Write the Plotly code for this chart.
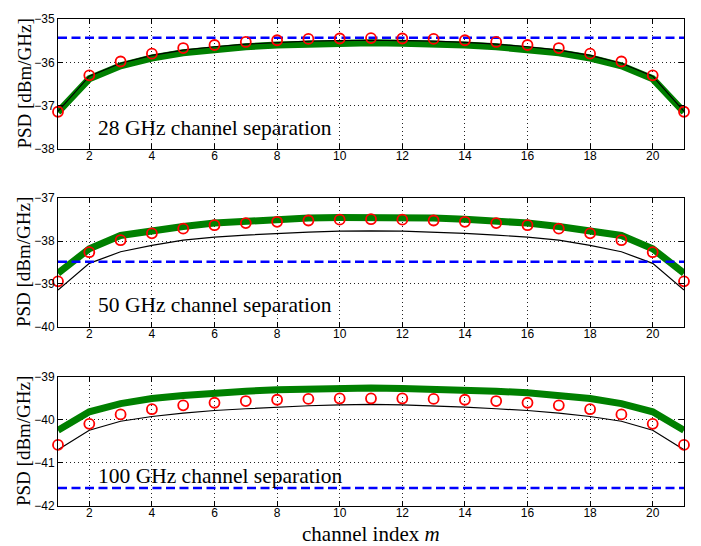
import plotly.graph_objects as go
from plotly.subplots import make_subplots

m = list(range(1, 22))

def mirror(half):
    return half + half[-2::-1]

# 28 GHz
red_28 = mirror([-37.14, -36.30, -35.98, -35.80, -35.67, -35.60, -35.53, -35.49, -35.46, -35.45, -35.44])
black_28 = mirror([-37.13, -36.32, -36.02, -35.84, -35.72, -35.64, -35.58, -35.54, -35.51, -35.50, -35.49])
green_28 = mirror([-37.15, -36.38, -36.08, -35.90, -35.78, -35.70, -35.64, -35.60, -35.57, -35.56, -35.55])
blue_28 = -35.43

# 50 GHz
red_50 = mirror([-38.94, -38.26, -37.98, -37.82, -37.71, -37.63, -37.58, -37.55, -37.52, -37.50, -37.49])
black_50 = mirror([-39.14, -38.52, -38.25, -38.10, -37.98, -37.91, -37.86, -37.82, -37.79, -37.77, -37.76])
green_50 = mirror([-38.75, -38.18, -37.87, -37.75, -37.66, -37.58, -37.53, -37.49, -37.46, -37.45, -37.44])
blue_50 = -38.48

# 100 GHz
red_100 = mirror([-40.58, -40.09, -39.87, -39.75, -39.66, -39.60, -39.56, -39.53, -39.51, -39.50, -39.50])
black_100 = mirror([-40.69, -40.24, -40.03, -39.92, -39.84, -39.78, -39.74, -39.70, -39.67, -39.65, -39.64])
green_100 = mirror([-40.24, -39.81, -39.62, -39.50, -39.43, -39.37, -39.33, -39.30, -39.28, -39.27, -39.26])
blue_100 = -41.58

panels = [
    (red_28, black_28, green_28, blue_28, [-38, -35], "28 GHz channel separation", -37.51),
    (red_50, black_50, green_50, blue_50, [-40, -37], "50 GHz channel separation", -39.49),
    (red_100, black_100, green_100, blue_100, [-42, -39], "100 GHz channel separation", -41.30),
]

x_ticks = list(range(2, 21, 2))

fig = make_subplots(rows=3, cols=1)

domains = [[0.733, 1.0], [0.368, 0.632], [0.0, 0.265]]
serif = "Liberation Serif, Times New Roman, serif"
sans = "Liberation Sans, Arial, sans-serif"

for i, (red, black, green, blue, yr, label, ylab) in enumerate(panels):
    row = i + 1
    fig.add_trace(go.Scatter(x=m, y=green, mode="lines", line=dict(color="#008000", width=7), showlegend=False), row=row, col=1)
    fig.add_trace(go.Scatter(x=m, y=black, mode="lines", line=dict(color="black", width=1.2), showlegend=False), row=row, col=1)
    fig.add_trace(go.Scatter(x=[m[0], m[-1]], y=[blue, blue], mode="lines",
                             line=dict(color="#0000ff", width=2.5, dash="9px,4.5px"), showlegend=False), row=row, col=1)
    fig.add_trace(go.Scatter(x=m, y=red, mode="markers",
                             marker=dict(symbol="circle-open", size=10, color="#ff0000", line=dict(width=1.8, color="#ff0000")),
                             showlegend=False, cliponaxis=False), row=row, col=1)
    xa = "xaxis" if row == 1 else f"xaxis{row}"
    ya = "yaxis" if row == 1 else f"yaxis{row}"
    fig.layout[xa].update(range=[1, 21], tickvals=x_ticks, ticks="inside", ticklen=5, tickcolor="black",
                          showline=True, linecolor="black", linewidth=1, mirror="ticks",
                          showgrid=True, gridcolor="#222", griddash="1px,3px", gridwidth=1, zeroline=False,
                          ticklabelstandoff=-4,
                          tickfont=dict(family=sans, size=12, color="black"))
    fig.layout[ya].update(range=yr, dtick=1, ticks="inside", ticklen=5, tickcolor="black",
                          showline=True, linecolor="black", linewidth=1, mirror="ticks",
                          showgrid=True, gridcolor="#222", griddash="1px,3px", gridwidth=1, zeroline=False,
                          domain=domains[i],
                          tickfont=dict(family=sans, size=12, color="black"))
    yref = "y" if row == 1 else f"y{row}"
    xref = "x" if row == 1 else f"x{row}"
    fig.add_annotation(x=2.2, y=ylab, xref=xref, yref=yref, text=label, showarrow=False,
                       xanchor="left", yanchor="middle", font=dict(family=serif, size=21.5, color="black"))
    fig.add_annotation(x=-0.055, y=sum(domains[i]) / 2, xref="paper", yref="paper", text="PSD [dBm/GHz]",
                       textangle=-90, showarrow=False, xanchor="center", yanchor="middle",
                       font=dict(family=serif, size=19, color="black"))

fig.add_annotation(x=0.5, y=-0.058, xref="paper", yref="paper", text="channel index <i>m</i>",
                   showarrow=False, xanchor="center", yanchor="middle",
                   font=dict(family=serif, size=21, color="black"))

fig.update_layout(width=701, height=546, margin=dict(l=58, r=17, t=12, b=40),
                  plot_bgcolor="white", paper_bgcolor="white")

fig.write_html("out.html", config={"displayModeBar": False},
               post_script="document.body.style.margin='0';document.body.style.overflow='hidden';")
